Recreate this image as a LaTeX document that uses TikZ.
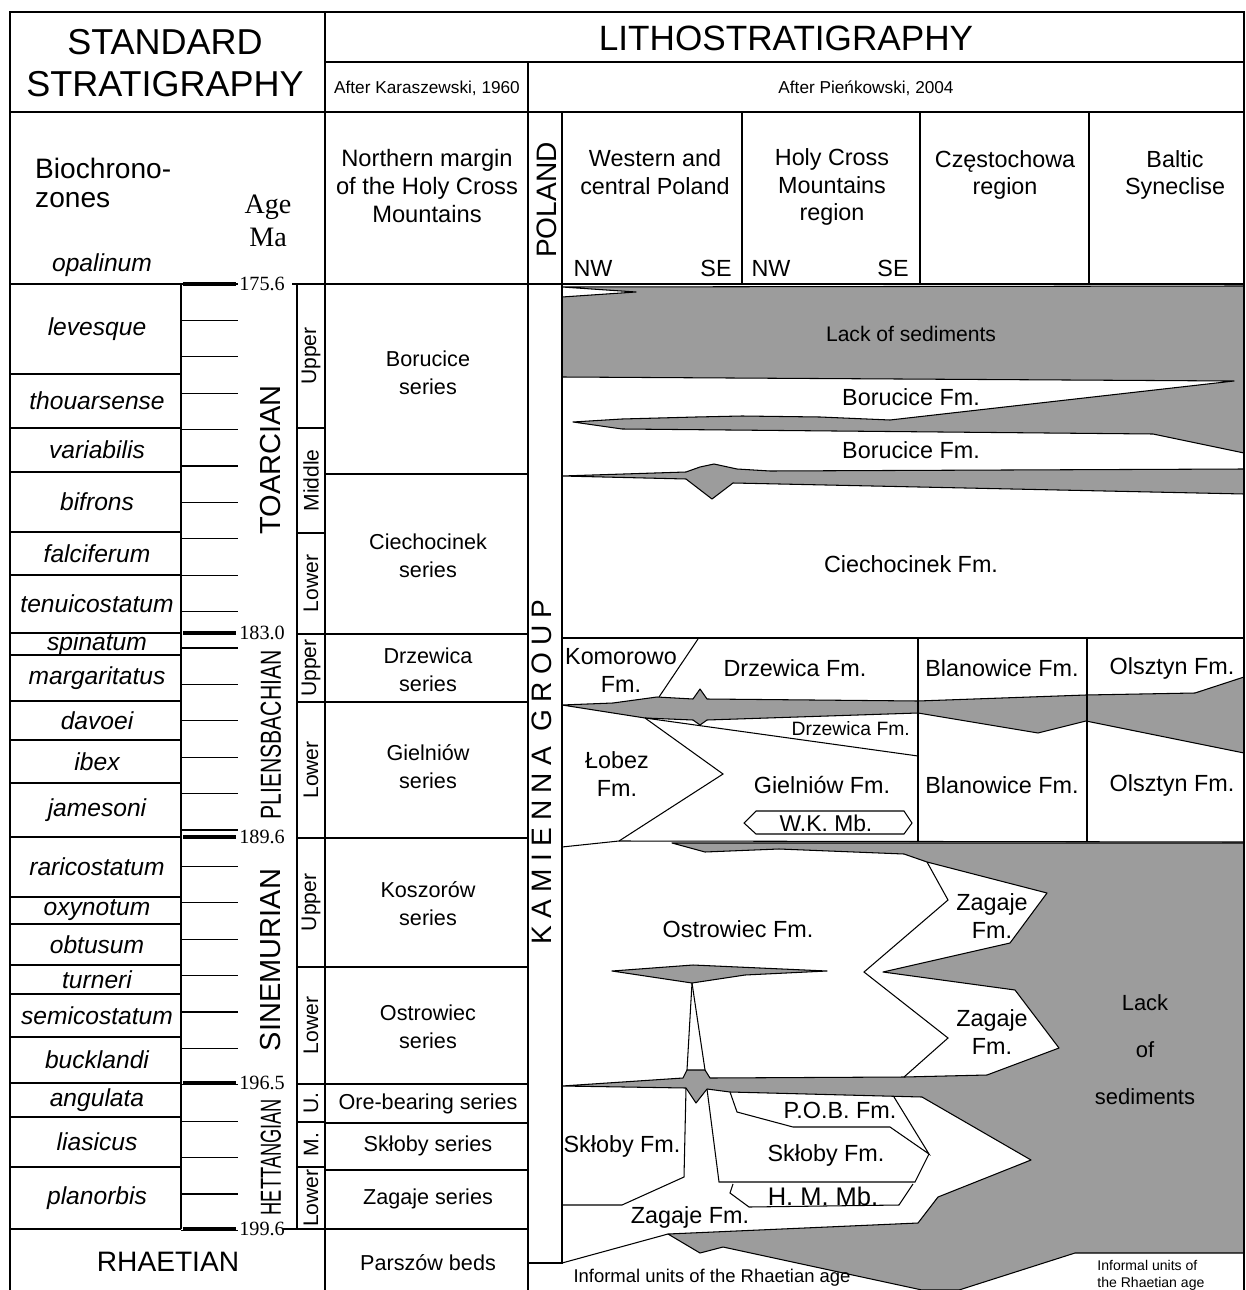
\documentclass[tikz,border=0pt]{standalone}
\usepackage{fontspec}
\usepackage{graphicx}
\setmainfont{Liberation Sans}
\newfontfamily\timesfont{Liberation Serif}
\newfontfamily\spacedfont[LetterSpace=26]{Liberation Sans}
\definecolor{lackgray}{HTML}{9C9C9C}

\begin{document}
\begin{tikzpicture}[
  x=0.02cm, y=-0.02cm,
  frameline/.style={line width=1.2pt},
  midline/.style={line width=0.8pt},
  gridline/.style={line width=0.6pt},
  bigtick/.style={line width=1.8pt},
  lackfill/.style={fill=lackgray, draw=black, line width=0.6pt, line join=round},
  titletext/.style={font=\fontsize{20.5}{23.8}\selectfont, align=center},
  headtext/.style={font=\fontsize{13.3}{15.6}\selectfont, align=center},
  sourcetext/.style={font=\fontsize{9.8}{11}\selectfont},
  zonetext/.style={font=\fontsize{14}{16}\selectfont\itshape},
  agetext/.style={font=\timesfont\fontsize{11.5}{13}\selectfont, anchor=west, inner sep=0pt},
  stagetext/.style={font=\fontsize{16.5}{18}\selectfont, rotate=90},
  subtext/.style={font=\fontsize{12}{13}\selectfont, rotate=90},
  seriestext/.style={font=\fontsize{12.3}{15.9}\selectfont, align=center},
  fmtext/.style={font=\fontsize{13.3}{15.9}\selectfont, align=center},
]
\useasboundingbox (0,0) rectangle (1245,1290);

% gaps in sedimentation
\path[lackfill] (562,297) -- (636,292) -- (562,287) -- (1244,286) -- (1244,453)
  -- (1153,434) -- (622,429) -- (573,422) -- (622,419) -- (696,417) -- (742,416)
  -- (820,417) -- (890,420) -- (1234,381) -- (562,377) -- cycle;
\path[lackfill] (562,476) -- (686,472) -- (700,467) -- (714,464) -- (737,469)
  -- (770,471) -- (1244,469) -- (1244,494) -- (733,483) -- (712,499) -- (686,479) -- cycle;
\path[lackfill] (562,705) -- (613,703) -- (657,697) -- (693,699) -- (700,689)
  -- (707,699) -- (918,701) -- (1086,695) -- (1195,693) -- (1244,677) -- (1244,753)
  -- (1086,721) -- (1038,733) -- (918,713) -- (707,720) -- (700,725) -- (693,720)
  -- (645,718) -- cycle;
\path[lackfill] (672,843) -- (1244,843) -- (1244,1253) -- (1075,1253) -- (959,1290)
  -- (922,1290) -- (723,1247) -- (700,1253) -- (668,1234) -- (918,1223) -- (938,1197)
  -- (1031,1160) -- (922,1097) -- (730,1092) -- (707,1089) -- (696,1103) -- (686,1088)
  -- (562,1086) -- (683,1078) -- (687,1070) -- (705,1070) -- (710,1078) -- (904,1077)
  -- (987,1075) -- (1059,1048) -- (1015,990) -- (883,972) -- (1010,943) -- (1047,893)
  -- (927,862) -- (904,854) -- (779,849) -- (705,852) -- cycle;
\path[lackfill] (612,971) -- (693,965) -- (827,971) -- (745,975) -- (692,983) -- cycle;

% frame and columns
\draw[frameline] (10,1290) -- (10,12) -- (1244,12) -- (1244,1290);
\draw[frameline] (325,12) -- (325,1290);
\draw[frameline] (10,112) -- (1244,112);
\draw[midline] (325,62) -- (1244,62);
\draw[midline] (528,62) -- (528,1290);
\draw[gridline] (562,112) -- (562,1263) -- (528,1263);
\foreach \cx in {742,920,1089}
  \draw[gridline] (\cx,112) -- (\cx,285);
\draw[gridline] (10,284) -- (183,284);
\draw[gridline] (292,284) -- (1244,284);
\draw[gridline] (181,284) -- (181,1229);
\draw[gridline] (297,284) -- (297,1229);
\draw[gridline] (283,1229) -- (528,1229);

% time scale
\foreach \k in {0,...,26}
  \draw[gridline] (181,{284+36.4*\k}) -- (238,{284+36.4*\k});
\foreach \agey/\agev [count=\ai] in {284/175.6, 633/183.0, 837/189.6, 1083/196.5, 1229/199.6}{
  \draw[bigtick] (183,\agey) -- (236,\agey);
  \node[agetext] (age\ai) at (239,\agey) {\agev};
}

\foreach \zone/\ta/\tb [count=\zi] in {levesque/284/374, thouarsense/374/428,
    variabilis/428/472, bifrons/472/532, falciferum/532/575, tenuicostatum/575/633,
    spinatum/633/655, margaritatus/655/701, davoei/701/740, ibex/740/783,
    jamesoni/783/837, raricostatum/837/897, oxynotum/897/924, obtusum/924/965,
    turneri/965/994, semicostatum/994/1037, bucklandi/1037/1083, angulata/1083/1117,
    liasicus/1117/1167, planorbis/1167/1229}{
  \draw[gridline] (10,\tb) -- (181,\tb);
  \node[zonetext] (zone\zi) at (97,{(\ta+\tb)/2}) {\zone};
}

\foreach \sub/\ta/\tb [count=\ui] in {Upper/284/428, Middle/428/533, Lower/533/634,
    Upper/634/702, Lower/702/838, Upper/838/967, Lower/967/1084, U./1084/1122,
    M./1122/1167, Lower/1167/1229}{
  \draw[gridline] (297,\tb) -- (325,\tb);
  \node[subtext] (sub\ui) at (311,{(\ta+\tb)/2}) {\sub};
}

\node[stagetext] (toarc)   at (271,460)  {TOARCIAN};
\node[stagetext] (pliens)  at (271,735)  {\scalebox{0.73}[1]{PLIENSBACHIAN}};
\node[stagetext] (sinem)   at (271,960)  {SINEMURIAN};
\node[stagetext] (hettang) at (271,1157) {\scalebox{0.63}[1]{HETTANGIAN}};
\node[font=\fontsize{16}{18}\selectfont] (rhaet) at (168,1262) {RHAETIAN};

% headings
\node[titletext] (stdstrat) at (165,63) {STANDARD\\STRATIGRAPHY};
\node[titletext, font=\fontsize{20}{23}\selectfont] (lithostrat) at (786,38) {LITHOSTRATIGRAPHY};
\node[sourcetext] (karasz) at (427,88) {After Karaszewski, 1960};
\node[sourcetext] (pienk) at (866,88) {After Pieńkowski, 2004};
\node[font=\fontsize{16}{17}\selectfont, align=left, anchor=west] (biozones) at (29,183) {Biochrono-\\zones};
\node[font=\timesfont\fontsize{16}{18.7}\selectfont, align=center] (agema) at (268,221) {Age\\Ma};
\node[zonetext] (opal) at (102,265) {opalinum};
\node[headtext, font=\fontsize{13.5}{15.9}\selectfont] (normarg) at (427,186) {Northern margin\\of the Holy Cross\\Mountains};
\node[font=\fontsize{16}{18}\selectfont, rotate=90] (poland) at (547,200) {POLAND};
\node[headtext] (wcpol) at (655,172) {Western and\\central Poland};
\node[headtext] (hcmreg) at (832,187) {Holy Cross\\Mountains\\region};
\node[headtext] (czest) at (1005,175) {Częstochowa\\region};
\node[headtext] (baltic) at (1175,175) {Baltic\\Syneclise};
\foreach \dir/\dx [count=\di] in {NW/593, SE/716, NW/771, SE/893}
  \node[headtext] (dir\di) at (\dx,268) {\dir};

% Karaszewski series
\foreach \ly in {474,634,702,838,967,1084,1123,1170}
  \draw[gridline] (325,\ly) -- (528,\ly);
\foreach \stext/\sy [count=\si] in {{Borucice\\series}/373, {Ciechocinek\\series}/556,
    {Drzewica\\series}/670, {Gielniów\\series}/767, {Koszorów\\series}/904,
    {Ostrowiec\\series}/1027, {Ore-bearing series}/1104, {Skłoby series}/1146,
    {Zagaje series}/1199, {Parszów beds}/1263}
  \node[seriestext] (series\si) at (428,\sy) {\stext};

\node[font=\spacedfont\fontsize{16}{18}\selectfont, rotate=90] (kamgroup) at (542,772) {KAMIENNA GROUP};

% Pliensbachian units
\draw[gridline] (562,638) -- (1244,638);
\draw[gridline] (918,638) -- (918,842);
\draw[gridline] (1087,638) -- (1087,842);
\draw[gridline] (698,639) -- (659,697);
\draw[gridline] (645,718) -- (918,756);
\draw[gridline] (645,718) -- (723,774) -- (619,841);
\draw[gridline] (562,847) -- (619,841) -- (1244,842);
\draw[gridline] (744,823) -- (756,811) -- (904,811) -- (912,823) -- (904,834) -- (756,834) -- cycle;

% Sinemurian and Hettangian units
\draw[gridline] (927,862) -- (948,900) -- (864,972) -- (948,1038) -- (904,1077);
\draw[gridline] (692,983) -- (687,1070);
\draw[gridline] (692,983) -- (705,1070);
\draw[gridline] (686,1088) -- (684,1177) -- (622,1205) -- (562,1205);
\draw[gridline] (707,1089) -- (719,1182) -- (915,1182) -- (929,1154);
\draw[gridline] (730,1092) -- (737,1112) -- (793,1127) -- (890,1127) -- (929,1154) -- (894,1097);
\draw[gridline] (733,1184) -- (730,1193) -- (749,1207) -- (899,1205) -- (913,1184);
\draw[gridline] (562,1263) -- (668,1234);

% formation labels
\node[fmtext, font=\fontsize{12}{14}\selectfont] (lacktop) at (911,334) {Lack of sediments};
\node[fmtext] (boru1) at (911,397) {Borucice Fm.};
\node[fmtext] (boru2) at (911,450) {Borucice Fm.};
\node[fmtext] (ciech) at (911,564) {Ciechocinek Fm.};
\node[fmtext] (komor) at (621,670) {Komorowo\\Fm.};
\node[fmtext] (drzew) at (795,668) {Drzewica Fm.};
\node[fmtext] (blan1) at (1002,668) {Blanowice Fm.};
\node[fmtext] (olsz1) at (1172,668) {Olsztyn Fm.};
\node[fmtext, font=\fontsize{11}{13}\selectfont, anchor=east] (drzew2) at (916,729) {Drzewica Fm.};
\node[fmtext] (lobez) at (617,774) {Łobez\\Fm.};
\node[fmtext] (gieln) at (822,785) {Gielniów Fm.};
\node[fmtext] (blan2) at (1002,785) {Blanowice Fm.};
\node[fmtext] (olsz2) at (1172,785) {Olsztyn Fm.};
\node[fmtext, font=\fontsize{13}{14}\selectfont] (wkmb) at (826,823) {W.K. Mb.};
\node[fmtext] (ostro) at (738,929) {Ostrowiec Fm.};
\node[fmtext] (zag1) at (992,916) {Zagaje\\Fm.};
\node[fmtext] (zag2) at (992,1032) {Zagaje\\Fm.};
\node[fmtext, font=\fontsize{12.5}{26.7}\selectfont] (lacklow) at (1145,1050) {Lack\\of\\sediments};
\node[fmtext] (pob) at (840,1110) {P.O.B. Fm.};
\node[fmtext] (sklo1) at (622,1146) {Skłoby Fm.};
\node[fmtext] (sklo2) at (826,1155) {Skłoby Fm.};
\node[fmtext, font=\fontsize{14.5}{16}\selectfont] (hmmb) at (823,1196) {H. M. Mb.};
\node[fmtext] (zag3) at (690,1217) {Zagaje Fm.};
\node[fmtext, font=\fontsize{10.5}{12}\selectfont] (inform1) at (712,1278) {Informal units of the Rhaetian age};
\node[font=\fontsize{8}{9.6}\selectfont, align=left, anchor=west, inner sep=0pt] (inform2) at (1097,1275) {Informal units of\\the Rhaetian age};

\end{tikzpicture}
\end{document}
